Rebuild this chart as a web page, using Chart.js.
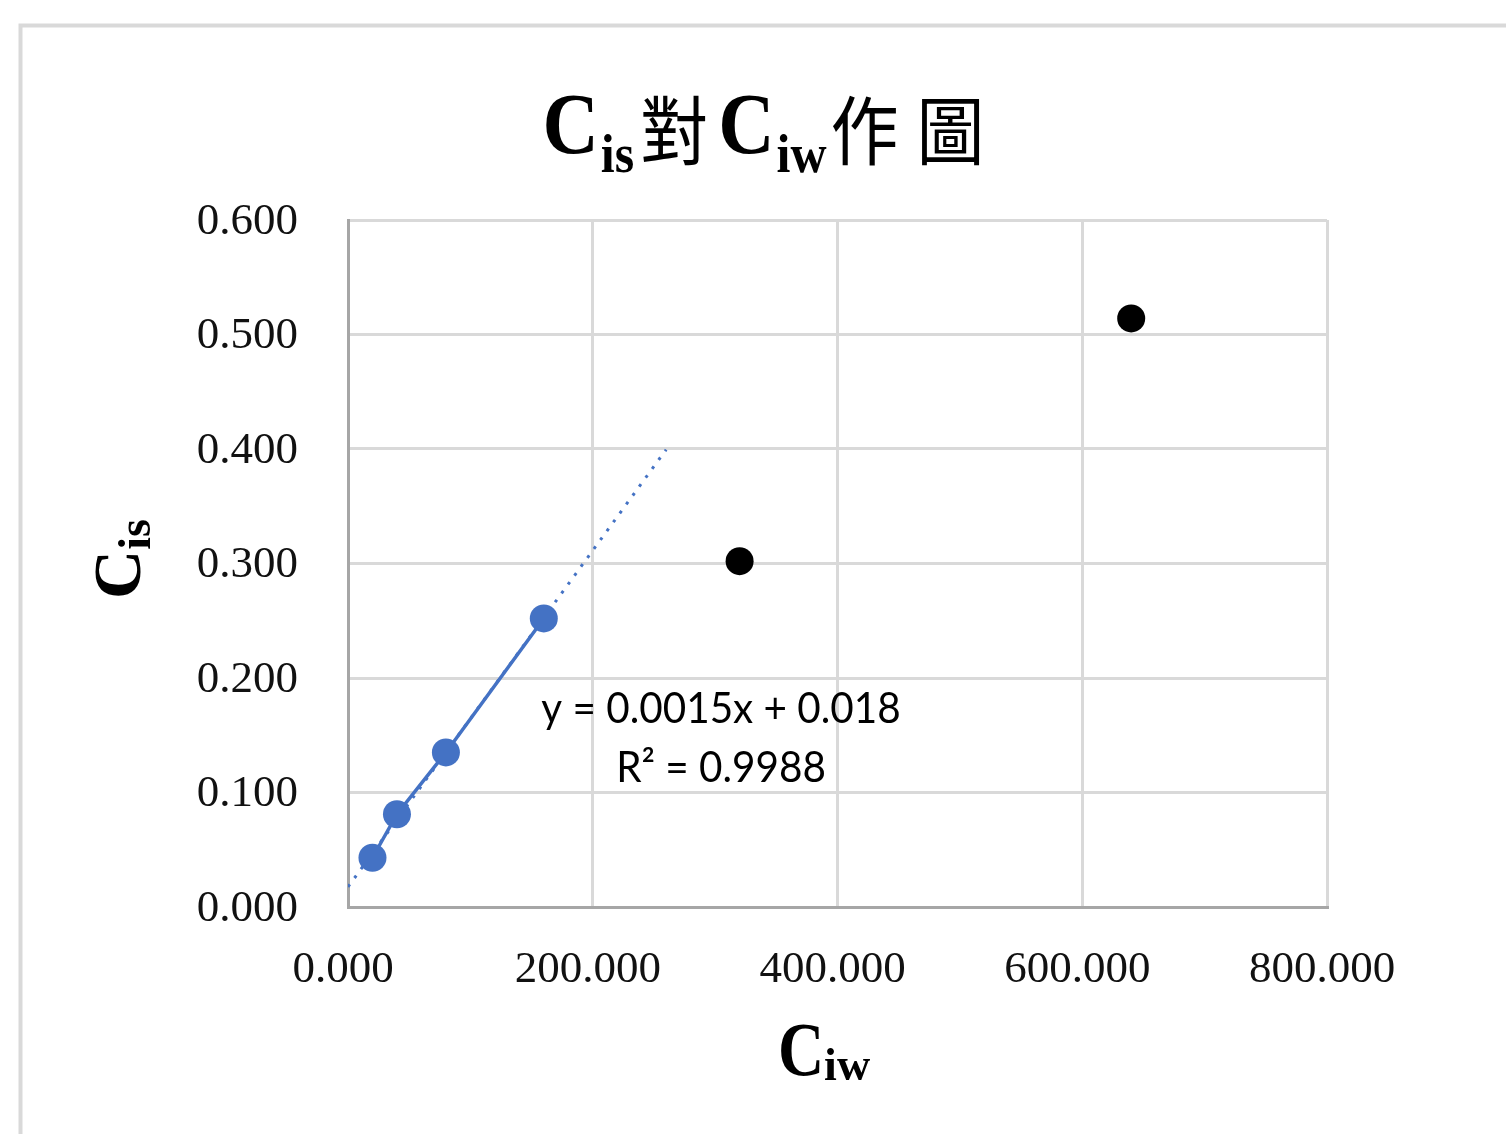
<!DOCTYPE html>
<html>
<head>
<meta charset="utf-8">
<script src="https://cdn.jsdelivr.net/npm/chart.js@4/dist/chart.umd.min.js"></script>
<style>
  html, body { margin: 0; padding: 0; background: #fff; overflow: hidden; }
  #wrap { position: relative; width: 1506px; height: 1134px; }
  canvas { display: block; }
</style>
</head>
<body>
<div id="wrap"><canvas id="chart" width="1506" height="1134"></canvas></div>
<script>
// Measured pairs used for the linear fit (blue series)
const ciwFitted = [20, 40, 80, 160];
const cisFitted = [0.043, 0.081, 0.135, 0.252];
// Remaining measured pairs (black points, outside the fit)
const ciwOther = [320, 640];
const cisOther = [0.302, 0.514];
// Trendline range (forecast forward to x = 260)
const trendFrom = 0;
const trendTo = 260;
const trendText = ['y = 0.0015x + 0.018', 'R\u00B2 = 0.9988'];
// Axis ticks
const xTicks = [0, 200, 400, 600, 800];
const yTicks = [0, 0.1, 0.2, 0.3, 0.4, 0.5, 0.6];

const BLUE = '#4472C4';
const SERIF = '"Liberation Serif", "Times New Roman", serif';
const CJK = '"Noto Sans CJK TC", "Noto Sans CJK SC", sans-serif';

const pairs = (xs, ys) => xs.map((x, i) => ({ x: x, y: ys[i] }));

// Ordinary least-squares line through the blue series (≈ 0.0015x + 0.018)
function linearFit(xs, ys) {
  const n = xs.length;
  const mx = xs.reduce((a, b) => a + b, 0) / n;
  const my = ys.reduce((a, b) => a + b, 0) / n;
  let sxy = 0, sxx = 0;
  xs.forEach((x, i) => { sxy += (x - mx) * (ys[i] - my); sxx += (x - mx) * (x - mx); });
  const slope = sxy / sxx;
  return { slope: slope, intercept: my - slope * mx };
}
const fit = linearFit(ciwFitted, cisFitted);
const trendPts = [trendFrom, trendTo].map(x => ({ x: x, y: fit.slope * x + fit.intercept }));

// Draws a run of text segments (main text + subscripts) centred on cx
function drawRich(ctx, parts, cx, baseline) {
  let total = 0;
  parts.forEach(p => {
    ctx.font = p.font;
    p.w = ctx.measureText(p.text).width * (p.sx || 1);
    total += p.w + (p.gap || 0);
  });
  let x = cx - total / 2;
  parts.forEach(p => {
    x += (p.gap || 0);
    ctx.save();
    ctx.font = p.font;
    ctx.translate(x, baseline + (p.dy || 0));
    ctx.scale(p.sx || 1, p.sy || 1);
    ctx.fillText(p.text, 0, 0);
    ctx.restore();
    x += p.w;
  });
}

const decor = {
  id: 'decor',
  beforeDraw(chart) {
    const ctx = chart.ctx;
    ctx.save();
    ctx.fillStyle = '#fff';
    ctx.fillRect(0, 0, chart.width, chart.height);
    // outer frame (top and left edges visible)
    ctx.strokeStyle = '#d9d9d9';
    ctx.lineWidth = 4;
    ctx.beginPath();
    ctx.moveTo(20.5, chart.height);
    ctx.lineTo(20.5, 25.5);
    ctx.lineTo(chart.width, 25.5);
    ctx.stroke();
    ctx.restore();
  },
  afterDraw(chart) {
    const ctx = chart.ctx;
    const area = chart.chartArea;
    ctx.save();
    ctx.fillStyle = '#000';
    ctx.textBaseline = 'alphabetic';
    ctx.textAlign = 'left';

    // Title: C_is 對 C_iw 作 圖
    const big = 'bold 78px ' + SERIF;
    const sub = 'bold 50px ' + SERIF;
    const han = '68px ' + CJK;
    drawRich(ctx, [
      { text: 'C', font: big, sy: 1.12 },
      { text: 'is', font: sub, dy: 19, sy: 1.1, gap: 2 },
      { text: '對', font: han, dy: 6, gap: 6, sy: 1.1 },
      { text: 'C', font: big, sy: 1.12, gap: 10 },
      { text: 'iw', font: sub, dy: 19, sy: 1.1, gap: 2 },
      { text: '作', font: han, dy: 6, gap: 4, sy: 1.1 },
      { text: '圖', font: han, dy: 6, gap: 18, sy: 1.1 }
    ], (area.left + area.right) / 2 - 74, 153);

    // X axis title: C_iw
    drawRich(ctx, [
      { text: 'C', font: 'bold 64px ' + SERIF, sy: 1.2 },
      { text: 'iw', font: 'bold 46px ' + SERIF, dy: 5, gap: 0 }
    ], 824, 1075);

    // Y axis title: C_is (rotated)
    ctx.save();
    ctx.translate(140, 559);
    ctx.rotate(-Math.PI / 2);
    drawRich(ctx, [
      { text: 'C', font: 'bold 68px ' + SERIF },
      { text: 'is', font: 'bold 46px ' + SERIF, dy: 10, gap: 0 }
    ], 0, 0);
    ctx.restore();

    // Trendline equation and R²
    ctx.font = '43px Lato, "Open Sans", sans-serif';
    ctx.textAlign = 'center';
    ctx.fillStyle = '#000';
    [[trendText[0], 723], [trendText[1], 782]].forEach(([t, y]) => {
      ctx.save();
      ctx.translate(721, y);
      ctx.scale(0.94, 1);
      ctx.fillText(t, 0, 0);
      ctx.restore();
    });
    ctx.restore();
  }
};

const tickFont = { family: SERIF, size: 45 };

new Chart(document.getElementById('chart'), {
  type: 'scatter',
  data: {
    datasets: [
      {
        label: 'trend',
        data: trendPts,
        showLine: true,
        borderColor: BLUE,
        borderWidth: 3,
        borderDash: [3, 8],
        pointRadius: 0,
        fill: false,
        order: 3
      },
      {
        label: 'fitted',
        data: pairs(ciwFitted, cisFitted),
        showLine: true,
        borderColor: BLUE,
        borderWidth: 3.5,
        backgroundColor: BLUE,
        pointBackgroundColor: BLUE,
        pointBorderWidth: 0,
        pointRadius: 14,
        order: 2
      },
      {
        label: 'other',
        data: pairs(ciwOther, cisOther),
        showLine: false,
        backgroundColor: '#000',
        pointBackgroundColor: '#000',
        pointBorderWidth: 0,
        pointRadius: 14,
        order: 1
      }
    ]
  },
  options: {
    responsive: false,
    animation: false,
    devicePixelRatio: 1,
    layout: { padding: { left: 0, top: 220, right: 179, bottom: 0 } },
    plugins: {
      legend: { display: false },
      title: { display: false },
      tooltip: { enabled: false }
    },
    scales: {
      x: {
        type: 'linear',
        min: xTicks[0],
        max: xTicks[xTicks.length - 1],
        afterBuildTicks: s => { s.ticks = xTicks.map(v => ({ value: v })); },
        afterFit: s => { s.height = 227; },
        ticks: {
          font: tickFont,
          color: '#111',
          padding: 36,
          labelOffset: -5,
          maxRotation: 0,
          callback: v => Number(v).toFixed(3)
        },
        grid: { color: '#d9d9d9', lineWidth: 3, drawTicks: false },
        border: { color: '#a6a6a6', width: 3 }
      },
      y: {
        type: 'linear',
        min: yTicks[0],
        max: yTicks[yTicks.length - 1],
        afterBuildTicks: s => { s.ticks = yTicks.map(v => ({ value: v })); },
        afterFit: s => { s.width = 348; },
        ticks: {
          font: tickFont,
          color: '#111',
          padding: 50,
          labelOffset: 2,
          callback: v => Number(v).toFixed(3)
        },
        grid: { color: '#d9d9d9', lineWidth: 3, drawTicks: false },
        border: { color: '#a6a6a6', width: 3 }
      }
    }
  },
  plugins: [decor]
});
</script>
</body>
</html>
